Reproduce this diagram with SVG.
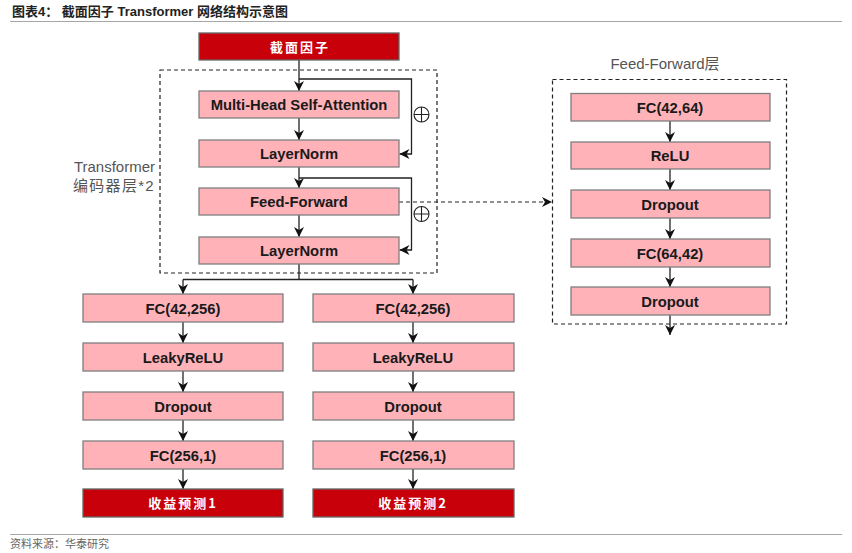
<svg xmlns="http://www.w3.org/2000/svg" width="852" height="553" viewBox="0 0 852 553">
<style>
.bg{fill:#ffffff}
.box{fill:#ffb3b9;stroke:#7f7f7f;stroke-width:1.3}
.red{fill:#c8000a;stroke:#666666;stroke-width:1.3}
.lbl{font-family:"Liberation Sans",Arial,sans-serif;font-weight:bold;font-size:14.8px;fill:#1a1a1a;text-anchor:middle}
.wlbl{font-family:"Noto Sans CJK SC","Liberation Sans",sans-serif;font-weight:bold;font-size:13px;fill:#ffffff;text-anchor:middle;letter-spacing:2px}
.dash{fill:none;stroke:#222;stroke-width:1.2;stroke-dasharray:4 3}
.con{fill:none;stroke:#222;stroke-width:1.3}
.gray{font-family:"Liberation Sans","Noto Sans CJK SC",sans-serif;font-size:15px;fill:#555}
.plus{fill:none;stroke:#222;stroke-width:1.1}
</style>
<defs>
<marker id="ah" viewBox="0 0 10 10" refX="10" refY="5" markerWidth="10" markerHeight="10" markerUnits="userSpaceOnUse" orient="auto">
<path d="M0,0 L10,5 L0,10 L3,5 z" fill="#111"/>
</marker>
</defs>
<rect class="bg" width="852" height="553"/>
<g id="title">
<text x="12" y="16" font-family="'Liberation Sans','Noto Sans CJK SC',sans-serif" font-weight="bold" font-size="13" fill="#222">图表4：  截面因子 Transformer 网络结构示意图</text>
<line x1="10" y1="21.5" x2="842" y2="21.5" stroke="#a6a6a6" stroke-width="1"/>
</g>
<g id="groups">
<rect id="transformer-block" class="dash" x="160" y="70" width="277" height="203"/>
<text class="gray" x="155" y="172" text-anchor="end">Transformer</text>
<text class="gray" x="155" y="191" text-anchor="end" font-family="'Noto Sans CJK SC','Liberation Sans',sans-serif" font-size="14" letter-spacing="1.3">编码器层*2</text>
<rect id="ff-block" class="dash" x="552.5" y="79.5" width="234" height="244.5"/>
<text class="gray" x="665" y="69" text-anchor="middle" font-size="14">Feed-Forward层</text>
</g>
<g id="connectors">
<path class="con" d="M299,60 V91" marker-end="url(#ah)"/>
<path class="con" d="M299,79 H411.5 V154 H399.5" marker-end="url(#ah)"/>
<path class="con" d="M299,118 V140" marker-end="url(#ah)"/>
<path class="con" d="M299,167 V188" marker-end="url(#ah)"/>
<path class="con" d="M299,178 H411.5 V250 H399.5" marker-end="url(#ah)"/>
<path class="con" d="M299,215 V237" marker-end="url(#ah)"/>
<path class="con" d="M299,264 V279.5 M183,279.5 H413"/>
<path class="con" d="M183,279.5 V294" marker-end="url(#ah)"/>
<path class="con" d="M413,279.5 V294" marker-end="url(#ah)"/>
<path class="dash" d="M399,202 H552" marker-end="url(#ah)"/>
<path class="con" d="M670,121 V142" marker-end="url(#ah)"/>
<path class="con" d="M670,169 V190" marker-end="url(#ah)"/>
<path class="con" d="M670,218 V239" marker-end="url(#ah)"/>
<path class="con" d="M670,267 V287" marker-end="url(#ah)"/>
<path class="con" d="M670,315 V335" marker-end="url(#ah)"/>
<path class="con" d="M183,322 V343" marker-end="url(#ah)"/>
<path class="con" d="M183,371 V392" marker-end="url(#ah)"/>
<path class="con" d="M183,420 V441" marker-end="url(#ah)"/>
<path class="con" d="M183,469 V489" marker-end="url(#ah)"/>
<path class="con" d="M413,322 V343" marker-end="url(#ah)"/>
<path class="con" d="M413,371 V392" marker-end="url(#ah)"/>
<path class="con" d="M413,420 V441" marker-end="url(#ah)"/>
<path class="con" d="M413,469 V489" marker-end="url(#ah)"/>
<g id="plus1"><circle class="plus" cx="421.5" cy="114.5" r="7.5"/><path class="plus" d="M414,114.5 H429 M421.5,107 V122"/></g>
<g id="plus2"><circle class="plus" cx="421.5" cy="214" r="7.5"/><path class="plus" d="M414,214 H429 M421.5,206.5 V221.5"/></g>
</g>
<g id="input"><rect class="red" x="199" y="33" width="200" height="27"/><text class="wlbl" x="300" y="51.5">截面因子</text></g>
<g id="mhsa"><rect class="box" x="199" y="91" width="200" height="27"/><text class="lbl" x="299" y="109.5">Multi-Head Self-Attention</text></g>
<g id="ln1"><rect class="box" x="199" y="140" width="200" height="27"/><text class="lbl" x="299" y="158.5">LayerNorm</text></g>
<g id="ff"><rect class="box" x="199" y="188" width="200" height="27"/><text class="lbl" x="299" y="206.5">Feed-Forward</text></g>
<g id="ln2"><rect class="box" x="199" y="237" width="200" height="27"/><text class="lbl" x="299" y="255.5">LayerNorm</text></g>
<g id="ff-fc1"><rect class="box" x="571" y="93.5" width="199" height="27.5"/><text class="lbl" x="670" y="112.5">FC(42,64)</text></g>
<g id="ff-relu"><rect class="box" x="571" y="142" width="199" height="27"/><text class="lbl" x="670" y="161">ReLU</text></g>
<g id="ff-drop1"><rect class="box" x="571" y="190" width="199" height="28"/><text class="lbl" x="670" y="209.5">Dropout</text></g>
<g id="ff-fc2"><rect class="box" x="571" y="239" width="199" height="28"/><text class="lbl" x="670" y="258.5">FC(64,42)</text></g>
<g id="ff-drop2"><rect class="box" x="571" y="287" width="199" height="28"/><text class="lbl" x="670" y="306.5">Dropout</text></g>
<g id="l-fc1"><rect class="box" x="83" y="294" width="200" height="28"/><text class="lbl" x="183" y="313.5">FC(42,256)</text></g>
<g id="l-leaky"><rect class="box" x="83" y="343" width="200" height="28"/><text class="lbl" x="183" y="362.5">LeakyReLU</text></g>
<g id="l-drop"><rect class="box" x="83" y="392" width="200" height="28"/><text class="lbl" x="183" y="411.5">Dropout</text></g>
<g id="l-fc2"><rect class="box" x="83" y="441" width="200" height="28"/><text class="lbl" x="183" y="460.5">FC(256,1)</text></g>
<g id="out1"><rect class="red" x="83" y="489" width="200" height="28"/><text class="wlbl" x="183" y="508">收益预测1</text></g>
<g id="r-fc1"><rect class="box" x="313" y="294" width="201" height="28"/><text class="lbl" x="413" y="313.5">FC(42,256)</text></g>
<g id="r-leaky"><rect class="box" x="313" y="343" width="201" height="28"/><text class="lbl" x="413" y="362.5">LeakyReLU</text></g>
<g id="r-drop"><rect class="box" x="313" y="392" width="201" height="28"/><text class="lbl" x="413" y="411.5">Dropout</text></g>
<g id="r-fc2"><rect class="box" x="313" y="441" width="201" height="28"/><text class="lbl" x="413" y="460.5">FC(256,1)</text></g>
<g id="out2"><rect class="red" x="313" y="489" width="201" height="28"/><text class="wlbl" x="413" y="508">收益预测2</text></g>
<g id="footer">
<line x1="10" y1="534.5" x2="842" y2="534.5" stroke="#a6a6a6" stroke-width="1"/>
<text x="10" y="548" font-family="'Noto Sans CJK SC',sans-serif" font-size="11" fill="#666">资料来源：华泰研究</text>
</g>
</svg>
